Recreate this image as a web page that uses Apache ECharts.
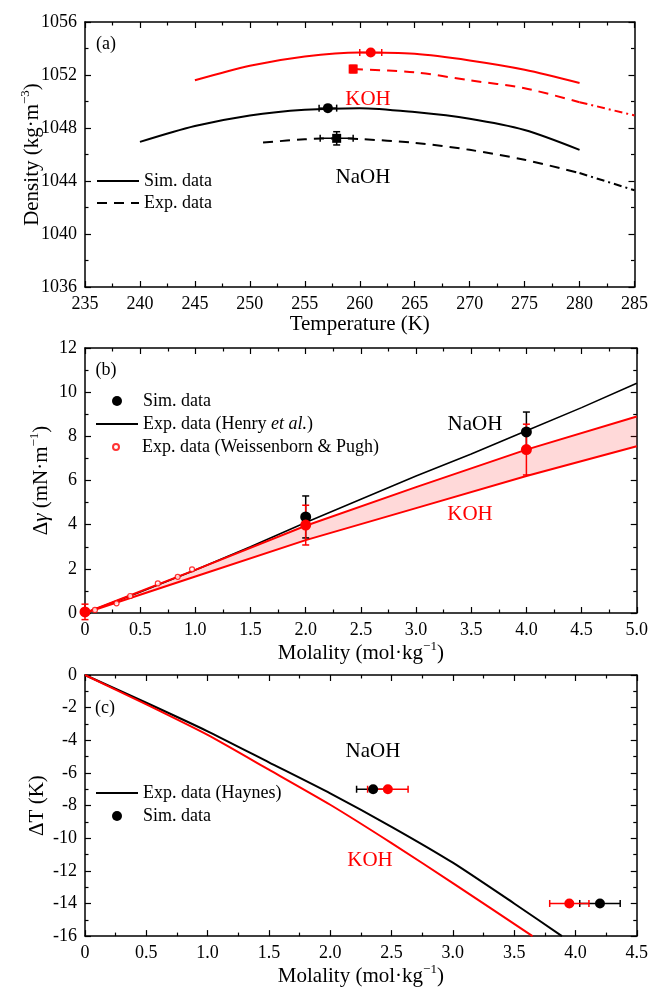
<!DOCTYPE html>
<html>
<head>
<meta charset="utf-8">
<script src="https://cdn.jsdelivr.net/npm/echarts@6/dist/echarts.min.js"></script>
<style>
  html, body { margin: 0; padding: 0; background: #fff; }
  #main { width: 651px; height: 988px; }
</style>
</head>
<body>
<div id="main"></div>
<script>
// ---- panel (a): density vs temperature ----
var tempNaSim = [240, 245, 250, 255, 260, 265, 270, 275, 280];
var rhoNaSim = [1046.95, 1048.15, 1048.95, 1049.38, 1049.5, 1049.2, 1048.7, 1047.85, 1046.35];
var tempKSim = [245, 250, 255, 260, 265, 270, 275, 280];
var rhoKSim = [1051.6, 1052.7, 1053.4, 1053.7, 1053.6, 1053.1, 1052.4, 1051.4];
var tempNaExp = [251.2, 255, 258, 260, 265, 270, 275, 280];
var rhoNaExp = [1046.9, 1047.15, 1047.22, 1047.17, 1046.88, 1046.35, 1045.6, 1044.6];
var tempNaExt = [280, 285];
var rhoNaExt = [1044.6, 1043.3];
var tempKExp = [259.4, 265, 270, 275, 280];
var rhoKExp = [1052.45, 1052.2, 1051.6, 1051.0, 1049.95];
var tempKExt = [280, 285];
var rhoKExt = [1049.95, 1048.95];
// points: [x, y, xerr, yerr]
var naSimPtA = [[257.1, 1049.5, 0.8, 0]];
var kSimPtA = [[261.0, 1053.7, 1.0, 0]];
var naExpPtA = [[257.9, 1047.22, 1.5, 0.5]];
var kExpPtA = [[259.4, 1052.45, 0, 0.28]];

// ---- panel (b): surface tension increment ----
var molHenry = [0, 0.5, 1, 1.5, 2, 2.5, 3, 3.5, 4, 4.5, 5];
var gamHenry = [0, 0.95, 1.95, 3.0, 4.1, 5.15, 6.2, 7.2, 8.25, 9.3, 10.4];
var molBand = [0, 1, 2, 3, 4, 5];
var gamKUpper = [0, 1.95, 3.95, 5.7, 7.4, 8.9];
var gamKLower = [0, 1.65, 3.3, 4.75, 6.2, 7.55];
var molWP = [0.09, 0.286, 0.41, 0.66, 0.84, 0.97];
var gamWP = [0.14, 0.44, 0.77, 1.34, 1.64, 1.98];
var naSimPtB = [[2.0, 4.35, 0, 0.95], [4.0, 8.2, 0, 0.9]];
var kSimPtB = [[0.0, 0.05, 0, 0.35], [2.0, 3.98, 0, 0.9], [4.0, 7.4, 0, 1.15]];

// ---- panel (c): freezing point depression ----
var molHaynesNa = [0, 0.5, 1, 1.5, 2, 2.5, 3, 3.5, 3.89];
var dTHaynesNa = [0, -1.7, -3.45, -5.35, -7.25, -9.3, -11.5, -14.0, -16];
var molHaynesK = [0, 0.5, 1, 1.5, 2, 2.5, 3, 3.65];
var dTHaynesK = [0, -1.8, -3.67, -5.8, -7.95, -10.3, -12.75, -16];
var naSimPtC = [[2.35, -7, 0.135, 0], [4.2, -14, 0.165, 0]];
var kSimPtC = [[2.47, -7, 0.165, 0], [3.95, -14, 0.16, 0]];

var font = 'Liberation Serif';
var RED = '#ff0000';

function zip(xs, ys) {
    var out = [];
    for (var i = 0; i < xs.length; i++) out.push([xs[i], ys[i]]);
    return out;
}

function plainFmt(v) { return String(v); }
function decFmt(v) { return v === 0 ? '0' : v.toFixed(1); }

function axis(grid, position, min, max, interval, showLabel, fmt) {
    return {
        type: 'value', gridIndex: grid, position: position,
        min: min, max: max, interval: interval,
        axisLine: {show: true, onZero: false, lineStyle: {color: '#000', width: 1.5}},
        axisTick: {show: true, inside: true, length: 6, lineStyle: {color: '#000', width: 1.2}},
        minorTick: {show: true, splitNumber: 2, length: 3.5, lineStyle: {color: '#000', width: 1.2}},
        splitLine: {show: false},
        minorSplitLine: {show: false},
        axisLabel: {
            show: showLabel, color: '#000', fontFamily: font, fontSize: 18, margin: 8,
            showMinLabel: true, showMaxLabel: true, formatter: fmt || plainFmt
        }
    };
}

var titleRich = {
    t: {fontFamily: font, fontSize: 21, color: '#000', lineHeight: 24, verticalAlign: 'bottom'},
    it: {fontFamily: font, fontSize: 21, color: '#000', fontStyle: 'italic', lineHeight: 24, verticalAlign: 'bottom'},
    s: {fontFamily: font, fontSize: 13, color: '#000', lineHeight: 13, verticalAlign: 'top'}
};

function xTitle(ax, text, gap) {
    ax.name = text; ax.nameLocation = 'middle'; ax.nameGap = gap;
    ax.nameTextStyle = {fontFamily: font, fontSize: 21, color: '#000', rich: titleRich};
    return ax;
}
function yTitle(ax, text, gap) {
    ax.name = text; ax.nameLocation = 'middle'; ax.nameGap = gap; ax.nameRotate = 90;
    ax.nameMoveOverlap = false;
    ax.nameTextStyle = {fontFamily: font, fontSize: 21, color: '#000', rich: titleRich};
    return ax;
}

var xAxes = [
    xTitle(axis(0, 'bottom', 235, 285, 5, true), 'Temperature (K)', 22),
    axis(0, 'top', 235, 285, 5, false),
    xTitle(axis(1, 'bottom', 0, 5, 0.5, true, decFmt), '{t|Molality (mol·kg}{s|−1}{t|)}', 22),
    axis(1, 'top', 0, 5, 0.5, false),
    xTitle(axis(2, 'bottom', 0, 4.5, 0.5, true, decFmt), '{t|Molality (mol·kg}{s|−1}{t|)}', 22),
    axis(2, 'top', 0, 4.5, 0.5, false)
];
var yAxes = [
    yTitle(axis(0, 'left', 1036, 1056, 4, true), '{t|Density (kg·m}{s|−3}{t|)}', 42),
    axis(0, 'right', 1036, 1056, 4, false),
    yTitle(axis(1, 'left', 0, 12, 2, true), '{t|Δ}{it|γ}{t| (mN·m}{s|−1}{t|)}', 33),
    axis(1, 'right', 0, 12, 2, false),
    yTitle(axis(2, 'left', -16, 0, 2, true), 'ΔT (K)', 37),
    axis(2, 'right', -16, 0, 2, false)
];

function errRender(color) {
    return function (params, api) {
        var x = api.value(0), y = api.value(1), ex = api.value(2), ey = api.value(3);
        var st = {stroke: color, lineWidth: 1.5};
        var cap = 3.5;
        var kids = [];
        if (ex > 0) {
            var l = api.coord([x - ex, y]), r = api.coord([x + ex, y]);
            kids.push({type: 'line', shape: {x1: l[0], y1: l[1], x2: r[0], y2: r[1]}, style: st});
            kids.push({type: 'line', shape: {x1: l[0], y1: l[1] - cap, x2: l[0], y2: l[1] + cap}, style: st});
            kids.push({type: 'line', shape: {x1: r[0], y1: r[1] - cap, x2: r[0], y2: r[1] + cap}, style: st});
        }
        if (ey > 0) {
            var b = api.coord([x, y - ey]), t = api.coord([x, y + ey]);
            kids.push({type: 'line', shape: {x1: b[0], y1: b[1], x2: t[0], y2: t[1]}, style: st});
            kids.push({type: 'line', shape: {x1: b[0] - cap, y1: b[1], x2: b[0] + cap, y2: b[1]}, style: st});
            kids.push({type: 'line', shape: {x1: t[0] - cap, y1: t[1], x2: t[0] + cap, y2: t[1]}, style: st});
        }
        return {type: 'group', children: kids};
    };
}

function errSeries(g, data, color) {
    return {
        type: 'custom', xAxisIndex: 2 * g, yAxisIndex: 2 * g, z: 4,
        renderItem: errRender(color), data: data, encode: {x: 0, y: 1}, clip: false, silent: true
    };
}

function lineSeries(name, g, data, color, width, dash, smooth) {
    return {
        name: name, type: 'line', xAxisIndex: 2 * g, yAxisIndex: 2 * g,
        data: data, symbol: 'none', smooth: smooth || false, z: 3, silent: true,
        lineStyle: {color: color, width: width, type: dash || 'solid'},
        itemStyle: {color: color}
    };
}

function dotSeries(name, g, data, color, symbol, size) {
    return {
        name: name, type: 'scatter', xAxisIndex: 2 * g, yAxisIndex: 2 * g,
        data: data.map(function (p) { return [p[0], p[1]]; }),
        symbol: symbol, symbolSize: size, z: 5, silent: true,
        itemStyle: {color: color, opacity: 1}
    };
}

var bandSeries = {
    type: 'custom', xAxisIndex: 2, yAxisIndex: 2, z: 1, silent: true,
    data: [[0, 0]], encode: {x: 0, y: 1},
    renderItem: function (params, api) {
        var pts = [];
        for (var i = 0; i < molBand.length; i++) pts.push(api.coord([molBand[i], gamKUpper[i]]));
        for (var j = molBand.length - 1; j >= 0; j--) pts.push(api.coord([molBand[j], gamKLower[j]]));
        return {type: 'polygon', shape: {points: pts}, style: {fill: 'rgba(255,0,0,0.15)'}};
    }
};

var series = [
    // (a)
    lineSeries('simA', 0, zip(tempNaSim, rhoNaSim), '#000', 2, null, 0.3),
    lineSeries('kSimA', 0, zip(tempKSim, rhoKSim), RED, 2, null, 0.3),
    lineSeries('expA', 0, zip(tempNaExp, rhoNaExp), '#000', 2, [10, 7], 0.3),
    lineSeries('expAext', 0, zip(tempNaExt, rhoNaExt), '#000', 2, [8, 4, 2, 4]),
    lineSeries('kExpA', 0, zip(tempKExp, rhoKExp), RED, 2, [10, 7], 0.3),
    lineSeries('kExpAext', 0, zip(tempKExt, rhoKExt), RED, 2, [8, 4, 2, 4]),
    errSeries(0, naSimPtA, '#000'),
    errSeries(0, naExpPtA, '#000'),
    errSeries(0, kSimPtA, RED),
    errSeries(0, kExpPtA, RED),
    dotSeries('naSimPtA', 0, naSimPtA, '#000', 'circle', 10),
    dotSeries('naExpPtA', 0, naExpPtA, '#000', 'rect', 9),
    dotSeries('kSimPtA', 0, kSimPtA, RED, 'circle', 10),
    dotSeries('kExpPtA', 0, kExpPtA, RED, 'rect', 9),
    // (b)
    bandSeries,
    lineSeries('henryB', 1, zip(molHenry, gamHenry), '#000', 1.6),
    lineSeries('kUpB', 1, zip(molBand, gamKUpper), RED, 2),
    lineSeries('kLoB', 1, zip(molBand, gamKLower), RED, 2),
    errSeries(1, naSimPtB, '#000'),
    errSeries(1, kSimPtB, RED),
    dotSeries('simB', 1, naSimPtB, '#000', 'circle', 11),
    dotSeries('kSimB', 1, kSimPtB, RED, 'circle', 11),
    {
        name: 'wpB', type: 'scatter', xAxisIndex: 2, yAxisIndex: 2, z: 5, silent: true,
        data: zip(molWP, gamWP), symbol: 'circle', symbolSize: 5,
        itemStyle: {color: '#fff', borderColor: RED, borderWidth: 1.2}
    },
    // (c)
    lineSeries('haynesC', 2, zip(molHaynesNa, dTHaynesNa), '#000', 2, null, 0.2),
    lineSeries('kHaynesC', 2, zip(molHaynesK, dTHaynesK), RED, 2, null, 0.2),
    errSeries(2, naSimPtC, '#000'),
    errSeries(2, kSimPtC, RED),
    dotSeries('simC', 2, naSimPtC, '#000', 'circle', 10),
    dotSeries('kSimC', 2, kSimPtC, RED, 'circle', 10)
];

var legendText = {
    simA: 'Sim. data',
    expA: 'Exp. data',
    simB: 'Sim. data',
    henryB: '{n|Exp. data (Henry }{i|et al.}{n|)}',
    wpB: 'Exp. data (Weissenborn & Pugh)',
    haynesC: 'Exp. data (Haynes)',
    simC: 'Sim. data'
};

function leg(name, left, cy, iw, ih, isLine) {
    var l = {
        data: [name], left: left, top: cy - 10, itemWidth: iw, itemHeight: ih,
        padding: 0, selectedMode: false, itemGap: 0,
        formatter: function (n) { return legendText[n]; },
        textStyle: {
            fontFamily: font, fontSize: 18, color: '#000', lineHeight: 20,
            rich: {
                n: {fontFamily: font, fontSize: 18, color: '#000'},
                i: {fontFamily: font, fontSize: 18, color: '#000', fontStyle: 'italic'}
            }
        }
    };
    if (isLine) l.itemStyle = {opacity: 0};
    return l;
}

function label(text, x, y, color, size) {
    return {
        type: 'text', x: x, y: y, silent: true,
        style: {text: text, fill: color, fontFamily: font, fontSize: size, align: 'center', verticalAlign: 'middle'}
    };
}

var option = {
    animation: false,
    backgroundColor: '#fff',
    grid: [
        {left: 85, top: 22, width: 554, height: 265},
        {left: 85, top: 348, width: 554, height: 265},
        {left: 85, top: 675, width: 554, height: 266}
    ],
    xAxis: xAxes,
    yAxis: yAxes,
    legend: [
        leg('simA', 96, 181, 42, 14, true),
        leg('expA', 96, 203, 42, 14, true),
        leg('simB', 112, 401, 42, 10),
        leg('henryB', 95, 424, 42, 14, true),
        leg('wpB', 112, 447, 42, 6),
        leg('haynesC', 95, 793, 42, 14, true),
        leg('simC', 112, 816, 42, 10)
    ],
    graphic: [
        label('(a)', 106, 44, '#000', 18),
        label('KOH', 368, 99, RED, 21),
        label('NaOH', 363, 177, '#000', 21),
        label('(b)', 106, 370, '#000', 18),
        label('NaOH', 475, 424, '#000', 21),
        label('KOH', 470, 514, RED, 21),
        label('(c)', 105, 708, '#000', 18),
        label('NaOH', 373, 751, '#000', 21),
        label('KOH', 370, 860, RED, 21)
    ],
    series: series
};

var myChart = echarts.init(document.getElementById('main'));
if (option && typeof option === 'object') {
    myChart.setOption(option, true);
}
</script>
</body>
</html>
